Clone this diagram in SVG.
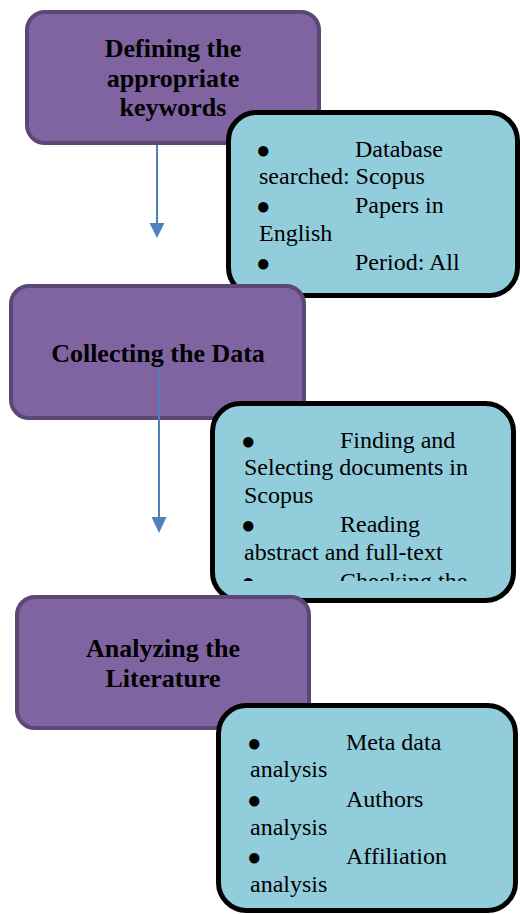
<svg xmlns="http://www.w3.org/2000/svg" width="520" height="914" viewBox="0 0 520 914">
  <style>
    .step { fill: #8064a2; stroke: #5c4876; stroke-width: 4; }
    .info { fill: #92cddc; stroke: #000000; stroke-width: 5; }
    .title { font-family: "Liberation Serif", "Times New Roman", serif; font-weight: bold; font-size: 26px; fill: #000; text-anchor: middle; }
    .body { font-family: "Liberation Serif", "Times New Roman", serif; font-size: 24px; fill: #000; }
    .bul { font-family: "Liberation Serif", "Times New Roman", serif; font-size: 24px; fill: #000; }
    .conn { stroke: #4f81bd; stroke-width: 2; fill: none; }
    .head { fill: #4f81bd; }
  </style>
  <defs>
    <clipPath id="clip2">
      <rect x="212" y="403" width="302" height="178"/>
    </clipPath>
  </defs>
  <g id="step1">
    <rect class="step" x="27" y="12" width="292" height="131" rx="18"/>
    <text class="title" x="173" y="57">Defining the</text>
    <text class="title" x="173" y="87">appropriate</text>
    <text class="title" x="173" y="116">keywords</text>
  </g>
  <g id="info1">
    <rect class="info" x="228.5" y="112.5" width="289" height="183" rx="28"/>
    <text class="bul" x="256" y="158">●</text>
    <text class="body" x="355" y="157">Database</text>
    <text class="body" x="259" y="184">searched: Scopus</text>
    <text class="bul" x="256" y="214">●</text>
    <text class="body" x="355" y="213">Papers in</text>
    <text class="body" x="259" y="241">English</text>
    <text class="bul" x="256" y="271">●</text>
    <text class="body" x="355" y="270">Period: All</text>
  </g>
  <g id="step2">
    <rect class="step" x="11" y="286" width="293" height="132" rx="18"/>
    <text class="title" x="158" y="362">Collecting the Data</text>
  </g>
  <g id="info2">
    <rect class="info" x="212.5" y="403.5" width="301" height="197" rx="28"/>
    <g clip-path="url(#clip2)">
      <text class="bul" x="241" y="449">●</text>
      <text class="body" x="340" y="448">Finding and</text>
      <text class="body" x="244" y="475">Selecting documents in</text>
      <text class="body" x="244" y="503">Scopus</text>
      <text class="bul" x="241" y="533">●</text>
      <text class="body" x="340" y="532">Reading</text>
      <text class="body" x="244" y="560">abstract and full-text</text>
      <text class="bul" x="241" y="590">●</text>
      <text class="body" x="340" y="589">Checking the</text>
    </g>
  </g>
  <g id="step3">
    <rect class="step" x="17" y="597" width="292" height="131" rx="18"/>
    <text class="title" x="163" y="657">Analyzing the</text>
    <text class="title" x="163" y="687">Literature</text>
  </g>
  <g id="info3">
    <rect class="info" x="218.5" y="705.5" width="297" height="205" rx="28"/>
    <text class="bul" x="247" y="751">●</text>
    <text class="body" x="346" y="750">Meta data</text>
    <text class="body" x="250" y="777">analysis</text>
    <text class="bul" x="247" y="808">●</text>
    <text class="body" x="346" y="807">Authors</text>
    <text class="body" x="250" y="835">analysis</text>
    <text class="bul" x="247" y="865">●</text>
    <text class="body" x="346" y="864">Affiliation</text>
    <text class="body" x="250" y="892">analysis</text>
  </g>
  <g id="connectors">
    <line class="conn" x1="157" y1="145" x2="157" y2="224"/>
    <polygon class="head" points="149.5,223 164.5,223 157,238"/>
    <line class="conn" x1="159" y1="370" x2="159" y2="518"/>
    <polygon class="head" points="151.5,517 166.5,517 159,533"/>
  </g>
</svg>
